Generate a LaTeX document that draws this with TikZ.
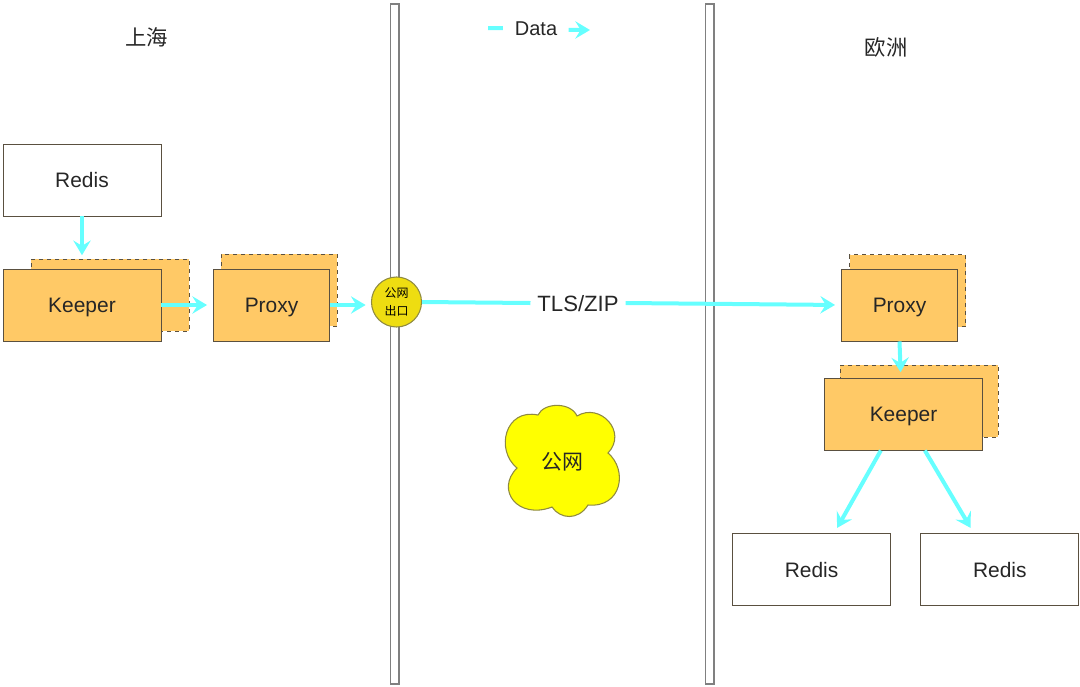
\documentclass[tikz,border=0pt]{standalone}
\usepackage{fontspec}
\setmainfont{Liberation Sans}
\newfontfamily\cjk{Noto Sans CJK SC}
\usepackage{tikz}
\usetikzlibrary{positioning,arrows.meta}
\definecolor{boxOrange}{HTML}{FFC966}
\definecolor{flowCyan}{HTML}{66FFFF}
\definecolor{edgeGray}{HTML}{5A5040}
\definecolor{exitYellow}{HTML}{EEDD11}
\definecolor{cloudEdge}{HTML}{8F8A40}
\definecolor{cloudYellow}{HTML}{FFFF00}

\begin{document}
\begin{tikzpicture}[
                x=0.75pt, y=-0.75pt,
                label/.style={font=\fontsize{15.7}{18}\selectfont, text=black!85, text depth=0pt},
                whitebox/.style={draw=edgeGray, line width=0.7pt, fill=white, minimum width=118.5pt, minimum height=54pt, inner sep=0pt, label},
                keeperbox/.style={whitebox, fill=boxOrange},
                proxybox/.style={keeperbox, minimum width=87pt},
                keeperback/.style={keeperbox, dashed},
                proxyback/.style={proxybox, dashed},
                wall/.style={draw=black!50, fill=white, line width=0.9pt, minimum width=6.6pt, minimum height=510pt, inner sep=0pt},
                flow/.style={-{Stealth[length=11pt, width=13pt, inset=4pt]}, line width=3pt, color=flowCyan},
                plainflow/.style={line width=3pt, color=flowCyan}
            ]
                \useasboundingbox (0,0) rectangle (1080,686);

                % walls
                \node[wall] (wallA) at (394.5,344) {};
                \node[wall] (wallB) at (709.5,344) {};

                % titles
                \node[label, font=\fontsize{16}{18}\selectfont] (sh) at (146.5,37) {\cjk 上海};
                \node[label, font=\fontsize{16}{18}\selectfont] (eu) at (886,47) {\cjk 欧洲};

                % legend on top
                \node[label, font=\fontsize{15}{18}\selectfont] (data) at (536,29) {Data};
                \coordinate (dataL) at (488,28);
                \coordinate (dataR) at (590,30);
                \draw[plainflow] (dataL) -- ([xshift=-5.5pt,yshift=0.7pt]data.west);
                \draw[flow] ([xshift=5pt,yshift=-0.7pt]data.east) -- (dataR);

                % left side
                \node[whitebox] (redisSh) at (82,180) {Redis};
                \node[keeperback] (keeperShBack) at (110,295) {};
                \node[keeperbox] (keeperSh) at (82,305) {Keeper};
                \node[proxyback] (proxyShBack) at (279,290) {};
                \node[proxybox] (proxySh) at (271.5,305) {Proxy};

                % exit and middle
                \node[circle, draw=cloudEdge, line width=0.8pt, fill=exitYellow, minimum size=37.5pt, inner sep=0pt,
                      align=center, font=\fontsize{9}{13}\selectfont] (exit) at (396.5,302) {\cjk 公网\\\cjk 出口};
                \node[label, font=\fontsize{16.6}{18}\selectfont, inner sep=5pt] (tls) at (578,303) {TLS/ZIP};
                \draw[draw=cloudEdge, line width=0.8pt, fill=cloudYellow] (538,415)
                    .. controls (544,402) and (571,402) .. (577,416)
                    .. controls (600,402) and (628,432) .. (608,453)
                    .. controls (628,470) and (622,508) .. (588,505)
                    .. controls (578,521) and (560,519) .. (552,507)
                    .. controls (518,520) and (495,490) .. (517,468)
                    .. controls (495,450) and (505,408) .. (538,415) -- cycle;
                \node[label] (net) at (562,461) {\cjk 公网};

                % right side
                \node[proxyback] (proxyEuBack) at (907.5,290.5) {};
                \node[proxybox] (proxyEu) at (899.5,305) {Proxy};
                \node[keeperback] (keeperEuBack) at (919,401) {};
                \node[keeperbox] (keeperEu) at (903.5,414) {Keeper};
                \node[whitebox, below=62pt of keeperEu.south, anchor=north, xshift=-69pt] (redisEuA) {Redis};
                \node[whitebox, right=22pt of redisEuA] (redisEuB) {Redis};

                % flows
                \draw[flow, shorten >=2.5pt] (redisSh.south) -- (redisSh.south |- keeperShBack.north);
                \draw[flow, shorten >=4.5pt] (keeperSh.east |- proxySh.west) -- (proxySh.west);
                \draw[flow, shorten >=4pt] (proxySh.east) -- (exit.west |- proxySh.east);
                \draw[plainflow] (exit.east) -- (tls.west);
                \draw[flow, shorten >=4.5pt] (tls.east) -- (proxyEu.west);
                \draw[flow, shorten >=4pt] (proxyEu.south) -- ([xshift=1pt]keeperEu.north -| proxyEu.south);
                \draw[flow, shorten >=4.5pt] ([xshift=-17pt]keeperEu.south) -- ([xshift=17pt]redisEuA.north);
                \draw[flow, shorten >=4.5pt] ([xshift=16pt]keeperEu.south) -- ([xshift=-19.5pt]redisEuB.north);
            \end{tikzpicture}
\end{document}
